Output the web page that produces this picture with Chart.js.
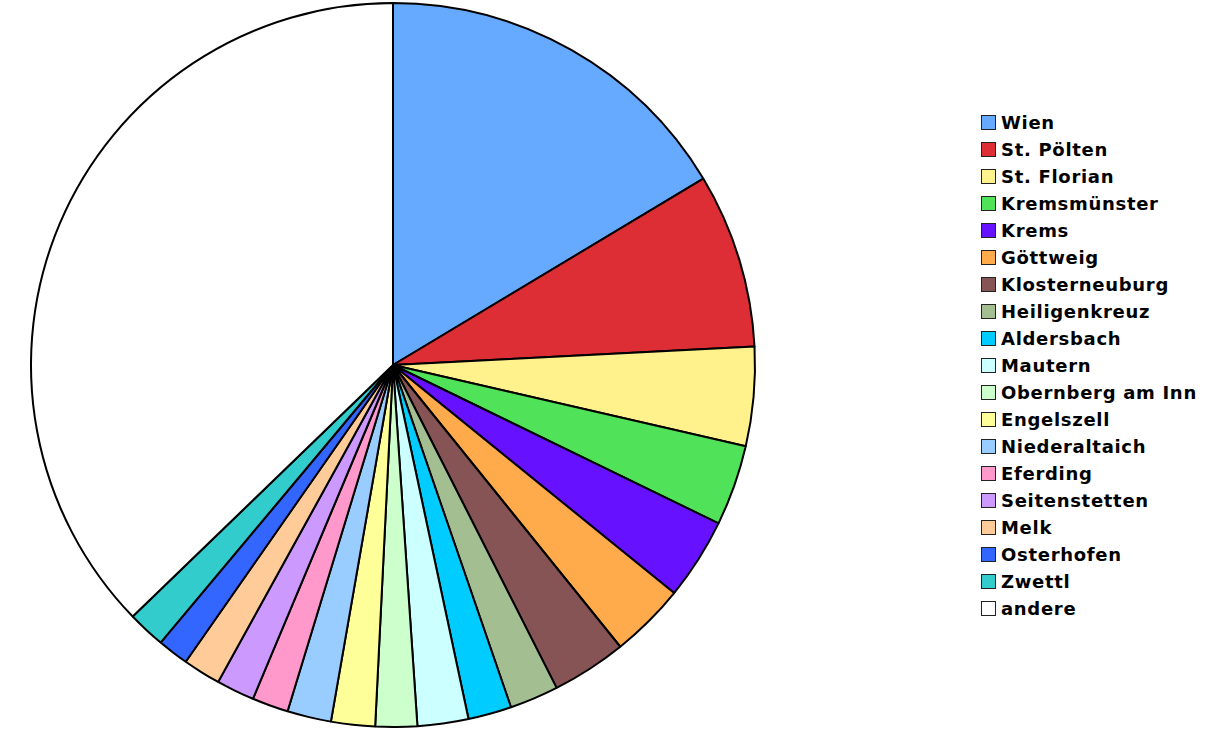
<!DOCTYPE html>
<html>
<head>
<meta charset="utf-8">
<script src="https://cdn.jsdelivr.net/npm/chart.js@4"></script>
<style>
  body { margin: 0; background: #fff; }
  #wrap { position: relative; width: 1220px; height: 730px; }
  #pieBox { position: absolute; left: 0; top: 0; width: 786px; height: 730px; }
  #legend { position: absolute; left: 981px; top: 109px; margin: 0; padding: 0; list-style: none;
    font-family: "DejaVu Sans", Verdana, sans-serif; font-weight: bold; font-size: 18px; letter-spacing: 0.7px; color: #000; }
  #legend li { height: 27px; display: flex; align-items: center; white-space: nowrap; }
  #legend span.box { display: inline-block; width: 13px; height: 13px; border: 1px solid #222; margin-right: 5px; }
</style>
</head>
<body>
<div id="wrap">
  <div id="pieBox"><canvas id="placesChart"></canvas></div>
  <ul id="legend"></ul>
</div>
<script>
// Anteile in Prozent
const places = [
  "Wien", "St. Pölten", "St. Florian", "Kremsmünster", "Krems", "Göttweig",
  "Klosterneuburg", "Heiligenkreuz", "Aldersbach", "Mautern", "Obernberg am Inn",
  "Engelszell", "Niederaltaich", "Eferding", "Seitenstetten", "Melk",
  "Osterhofen", "Zwettl", "andere",
];
const shares = [
  16.39, 7.8, 4.42, 3.6, 3.64, 3.35, 3.34, 2.18, 1.94, 2.27, 1.86,
  1.96, 1.96, 1.62, 1.7, 1.68, 1.39, 1.68, 37.23,
];
const colors = [
  "#66aaff", "#dd2d35", "#fff28c", "#50e35a", "#6611ff", "#ffaa4b",
  "#875456", "#a3bf91", "#00ccff", "#ccffff", "#ccffcc",
  "#ffff99", "#99ccff", "#ff99cc", "#cc99ff", "#ffcc99",
  "#3366ff", "#33cccc", "#ffffff",
];

const placesChart = document.getElementById("placesChart");

new Chart(placesChart, {
  type: "pie",
  data: {
    labels: places,
    datasets: [
      {
        data: shares,
        backgroundColor: colors,
        borderColor: "#000",
        borderWidth: 2,
        hoverOffset: 0,
      },
    ],
  },
  options: {
    responsive: true,
    maintainAspectRatio: false,
    animation: false,
    events: [],
    plugins: {
      legend: { display: false },
      tooltip: { enabled: false },
      title: { display: false },
    },
    layout: {
      padding: { left: 30, right: 30, top: 2, bottom: 2 },
    },
  },
});

// Legende als HTML
const legend = document.getElementById("legend");
places.forEach((name, i) => {
  const li = document.createElement("li");
  const box = document.createElement("span");
  box.className = "box";
  box.style.background = colors[i];
  li.appendChild(box);
  li.appendChild(document.createTextNode(name));
  legend.appendChild(li);
});
</script>
</body>
</html>
